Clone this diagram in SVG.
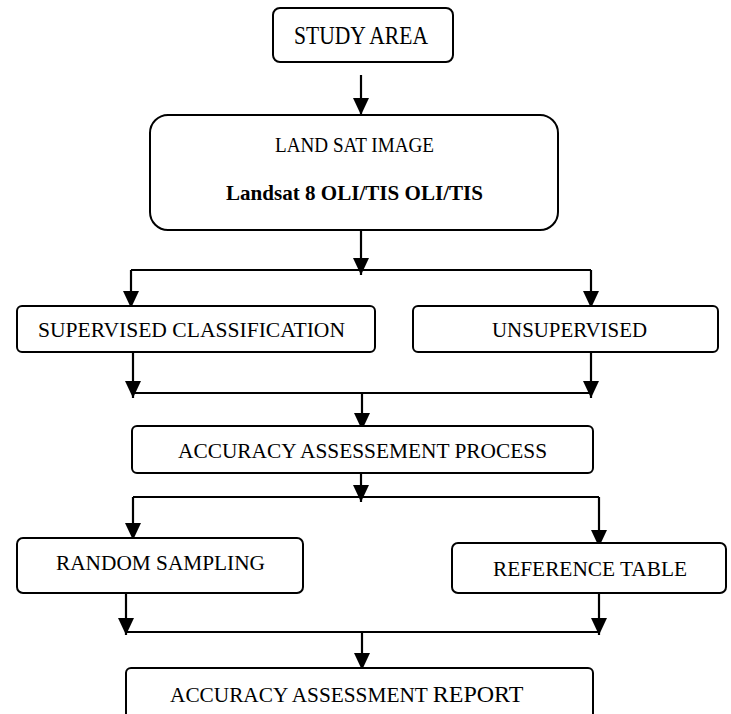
<svg xmlns="http://www.w3.org/2000/svg" width="731" height="714" viewBox="0 0 731 714">
<style>
.box{fill:#fff;stroke:#000;stroke-width:2}
.ln{fill:none;stroke:#000;stroke-width:2.2}
.t{font-family:"Liberation Serif","Times New Roman",serif;fill:#000;text-anchor:middle;font-size:21.3px}
</style>
<defs>
<marker id="ah" markerUnits="userSpaceOnUse" markerWidth="17" markerHeight="16" viewBox="0 0 17 16" refX="17" refY="8" orient="auto">
<path d="M0,0 L17,8 L0,16 z" fill="#000"/>
</marker>
</defs>
<rect x="0" y="0" width="731" height="714" fill="#fff"/>
<g id="connectors">
<path class="ln" d="M361,75 V115" marker-end="url(#ah)"/>
<path class="ln" d="M361,230 V275" marker-end="url(#ah)"/>
<path class="ln" d="M131,270 H591"/>
<path class="ln" d="M131,270 V308" marker-end="url(#ah)"/>
<path class="ln" d="M591,270 V308" marker-end="url(#ah)"/>
<path class="ln" d="M133,352 V398" marker-end="url(#ah)"/>
<path class="ln" d="M591,352 V398" marker-end="url(#ah)"/>
<path class="ln" d="M133,393 H591"/>
<path class="ln" d="M362,393 V430" marker-end="url(#ah)"/>
<path class="ln" d="M361,465 V502" marker-end="url(#ah)"/>
<path class="ln" d="M133,497 H599"/>
<path class="ln" d="M133,497 V540" marker-end="url(#ah)"/>
<path class="ln" d="M599,497 V547" marker-end="url(#ah)"/>
<path class="ln" d="M126,593 V635" marker-end="url(#ah)"/>
<path class="ln" d="M599,586 V635" marker-end="url(#ah)"/>
<path class="ln" d="M126,632 H600"/>
<path class="ln" d="M362,632 V670" marker-end="url(#ah)"/>
</g>
<g id="study-area">
<rect class="box" x="273" y="8" width="180" height="54" rx="7"/>
<text class="t" x="361" y="44" style="font-size:25px" textLength="134" lengthAdjust="spacingAndGlyphs">STUDY AREA</text>
</g>
<g id="landsat">
<rect class="box" x="150" y="115" width="408" height="115" rx="18"/>
<text class="t" x="354.5" y="152" style="font-size:20.5px" textLength="159" lengthAdjust="spacingAndGlyphs">LAND SAT IMAGE</text>
<text class="t" x="354.5" y="200" style="font-size:22px;font-weight:bold" textLength="257" lengthAdjust="spacingAndGlyphs">Landsat 8 OLI/TIS OLI/TIS</text>
</g>
<g id="supervised">
<rect class="box" x="17" y="306" width="358" height="46" rx="5"/>
<text class="t" x="191.5" y="337" textLength="307" lengthAdjust="spacingAndGlyphs">SUPERVISED CLASSIFICATION</text>
</g>
<g id="unsupervised">
<rect class="box" x="413" y="306" width="305" height="46" rx="5"/>
<text class="t" x="569.5" y="337" textLength="155" lengthAdjust="spacingAndGlyphs">UNSUPERVISED</text>
</g>
<g id="accuracy-process">
<rect class="box" x="132" y="426" width="461" height="47" rx="5"/>
<text class="t" x="362.5" y="458" textLength="369" lengthAdjust="spacingAndGlyphs">ACCURACY ASSESSEMENT PROCESS</text>
</g>
<g id="random-sampling">
<rect class="box" x="17" y="538" width="286" height="55" rx="6"/>
<text class="t" x="160.5" y="570" textLength="209" lengthAdjust="spacingAndGlyphs">RANDOM SAMPLING</text>
</g>
<g id="reference-table">
<rect class="box" x="452" y="543" width="274" height="50" rx="6"/>
<text class="t" x="590" y="576" textLength="194" lengthAdjust="spacingAndGlyphs">REFERENCE TABLE</text>
</g>
<g id="accuracy-report">
<rect class="box" x="126" y="668" width="467" height="60" rx="5"/>
<text class="t" x="170" y="702" style="text-anchor:start">ACCURACY ASSESSMENT <tspan style="font-size:24px">REPORT</tspan></text>
</g>
</svg>
